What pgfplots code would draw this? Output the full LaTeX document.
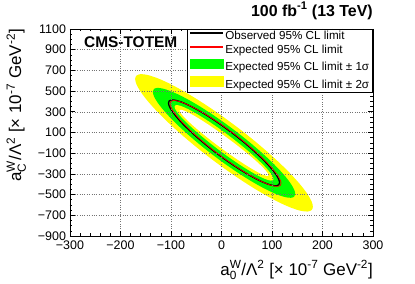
\documentclass[border=0pt]{standalone}
\usepackage{pgfplots}
\pgfplotsset{compat=1.18}
\usepackage{amsmath}
\usepackage{fontspec}
\setmainfont{Liberation Sans}
\definecolor{rgreen}{RGB}{0,255,0}
\definecolor{ryellow}{RGB}{255,255,0}
\definecolor{rred}{RGB}{255,0,0}
\begin{document}
\begin{tikzpicture}
\path[use as bounding box] (-70bp,-48bp) rectangle (345bp,236bp);
\begin{axis}[
  at={(0,0)}, anchor=south west,
  scale only axis, width=303bp, height=207bp,
  xmin=-300, xmax=300, ymin=-900, ymax=1100,
  xtick={-300,-200,-100,0,100,200,300},
  ytick={-900,-700,-500,-300,-100,100,300,500,700,900,1100},
  xticklabels={−300,−200,−100,0,100,200,300},
  yticklabels={−900,−700,−500,−300,−100,100,300,500,700,900,1100},
  minor x tick num=4, minor y tick num=3,
  tick align=inside,
  major tick length=5bp, minor tick length=2.5bp,
  tick style={black, line width=0.6pt},
  axis line style={black, line width=0.8pt},
  grid=major, grid style={dotted, black!55, line width=0.5pt},
  axis on top,
  tick label style={font=\fontsize{12.5}{14}\selectfont},
  xticklabel style={yshift=-1.5bp},
  yticklabel style={xshift=-0.5bp},
  xlabel={a$^{\text{W}}_{\text{0}}$/Λ$^{\text{2}}$ [× 10$^{\text{-7}}$ GeV$^{\text{-2}}$]},
  ylabel={a$^{\text{W}}_{\text{C}}$/Λ$^{\text{2}}$ [× 10$^{\text{-7}}$ GeV$^{\text{-2}}$]},
  xlabel style={at={(axis description cs:1,0)}, anchor=base east, yshift=-39bp, inner sep=0pt, font=\fontsize{17}{19}\selectfont},
  ylabel style={at={(axis description cs:-0.1617,1)}, anchor=base east, inner sep=0pt, font=\fontsize{17}{19}\selectfont},
  title={100 fb$^{\text{-1}}$ (13 TeV)},
  title style={at={(axis description cs:1,1)}, anchor=base east, yshift=7bp, inner sep=0pt, font=\bfseries\fontsize{16}{18}\selectfont},
  legend style={at={(axis description cs:1,1)}, anchor=north east, draw=black, line width=0.6pt, fill=white,
    font=\fontsize{11.7}{14}\selectfont, inner xsep=2bp, inner ysep=2bp, row sep=3bp,
    nodes={inner xsep=1.5bp, inner ysep=0bp, text height=8.5bp, text depth=2.5bp},
    /tikz/every even column/.append style={column sep=3bp}},
  legend cell align=left,
]
% outer 2 sigma (yellow)
\addplot[fill=ryellow, draw=none, smooth, forget plot] coordinates {
(5,245.5) (-25.6,348.9) (-55.2,441.7) (-83,520.8) (-108.1,584.7) (-129.8,630.4) (-147.4,657.0) (-160.4,663.7) (-168.3,650.2)
(-171,616.9) (-168.3,564.9) (-160.4,495.7) (-147.4,411.5) (-129.8,314.8) (-108.1,208.5) (-83,95.9) (-55.2,-19.7) (-25.6,-134.7)
(5,-245.5) (35.6,-348.9) (65.2,-441.7) (93,-520.8) (118.1,-584.7) (139.8,-630.4) (157.4,-657.0) (170.4,-663.7) (178.3,-650.2)
(181,-616.9) (178.3,-564.9) (170.4,-495.7) (157.4,-411.5) (139.8,-314.8) (118.1,-208.5) (93,-95.9) (65.2,19.7) (35.6,134.7)
(5,245.5)} -- cycle;
% outer 1 sigma (green)
\addplot[fill=rgreen, draw=none, smooth, forget plot] coordinates {
(5,196.3) (-19.5,279.0) (-43.2,353.2) (-65.5,416.5) (-85.6,467.5) (-103,504.1) (-117.1,525.4) (-127.5,530.8) (-133.9,520.0)
(-136,493.4) (-133.9,451.8) (-127.5,396.4) (-117.1,329.1) (-103,251.7) (-85.6,166.7) (-65.5,76.7) (-43.2,-15.8) (-19.5,-107.7)
(5,-196.3) (29.5,-279.0) (53.2,-353.2) (75.5,-416.5) (95.6,-467.5) (113,-504.1) (127.1,-525.4) (137.5,-530.8) (143.9,-520.0)
(146,-493.4) (143.9,-451.8) (137.5,-396.4) (127.1,-329.1) (113,-251.7) (95.6,-166.7) (75.5,-76.7) (53.2,15.8) (29.5,107.7)
(5,196.3)} -- cycle;
% inner 1 sigma (back to yellow)
\addplot[fill=ryellow, draw=none, smooth, forget plot] coordinates {
(5,104.3) (-12,163.4) (-28.5,217.6) (-44,265.2) (-58,304.7) (-70.1,335.0) (-79.9,355.1) (-87.1,364.3) (-91.5,362.6)
(-93,349.8) (-91.5,326.4) (-87.1,293.0) (-79.9,250.8) (-70.1,200.9) (-58,144.9) (-44,84.6) (-28.5,21.6) (-12,-41.9)
(5,-104.3) (22,-163.4) (38.5,-217.6) (54,-265.2) (68,-304.7) (80.1,-335.0) (89.9,-355.1) (97.1,-364.3) (101.5,-362.6)
(103,-349.8) (101.5,-326.4) (97.1,-293.0) (89.9,-250.8) (80.1,-200.9) (68,-144.9) (54,-84.6) (38.5,-21.6) (22,41.9)
(5,104.3)} -- cycle;
% inner 2 sigma (white)
\addplot[fill=white, draw=none, smooth, forget plot] coordinates {
(5,70.3) (-10.3,123.5) (-25.1,172.9) (-39,217.0) (-51.6,254.6) (-62.4,284.4) (-71.2,305.5) (-77.7,317.4) (-81.7,319.6)
(-83,312.2) (-81.7,295.2) (-77.7,269.3) (-71.2,235.2) (-62.4,193.9) (-51.6,146.8) (-39,95.2) (-25.1,40.7) (-10.3,-15.1)
(5,-70.3) (20.3,-123.5) (35.1,-172.9) (49,-217.0) (61.6,-254.6) (72.4,-284.4) (81.2,-305.5) (87.7,-317.4) (91.7,-319.6)
(93,-312.2) (91.7,-295.2) (87.7,-269.3) (81.2,-235.2) (72.4,-193.9) (61.6,-146.8) (49,-95.2) (35.1,-40.7) (20.3,15.1)
(5,70.3)} -- cycle;
% observed
\addplot[black, line width=1.3pt, smooth, forget plot] coordinates {
(5,153.4) (-14.1,218.1) (-32.6,276.1) (-50,325.5) (-65.7,365.4) (-79.3,394.0) (-90.3,410.6) (-98.4,414.8) (-103.3,406.4)
(-105,385.6) (-103.3,353.1) (-98.4,309.8) (-90.3,257.2) (-79.3,196.8) (-65.7,130.3) (-50,59.9) (-32.6,-12.3) (-14.1,-84.2)
(5,-153.4) (24.1,-218.1) (42.6,-276.1) (60,-325.5) (75.7,-365.4) (89.3,-394.0) (100.3,-410.6) (108.4,-414.8) (113.3,-406.4)
(115,-385.6) (113.3,-353.1) (108.4,-309.8) (100.3,-257.2) (89.3,-196.8) (75.7,-130.3) (60,-59.9) (42.6,12.3) (24.1,84.2)
(5,153.4)} -- cycle;
% expected
\addplot[rred, line width=0.7pt, smooth, forget plot] coordinates {
(8,147.4) (-11.1,212.1) (-29.6,270.1) (-47,319.5) (-62.7,359.4) (-76.3,388.0) (-87.3,404.6) (-95.4,408.8) (-100.3,400.4)
(-102,379.6) (-100.3,347.1) (-95.4,303.8) (-87.3,251.2) (-76.3,190.8) (-62.7,124.3) (-47,53.9) (-29.6,-18.3) (-11.1,-90.2)
(8,-159.4) (27.1,-224.1) (45.6,-282.1) (63,-331.5) (78.7,-371.4) (92.3,-400.0) (103.3,-416.6) (111.4,-420.8) (116.3,-412.4)
(118,-391.6) (116.3,-359.1) (111.4,-315.8) (103.3,-263.2) (92.3,-202.8) (78.7,-136.3) (63,-65.9) (45.6,6.3) (27.1,78.2)
(8,147.4)} -- cycle;
\addlegendimage{legend image code/.code={\draw[black, line width=1.2pt] (0bp,3.8bp) -- (33bp,3.8bp);}}
\addlegendentry{Observed 95\% CL limit}
\addlegendimage{legend image code/.code={\draw[rred, line width=1.2pt] (0bp,3.8bp) -- (33bp,3.8bp);}}
\addlegendentry{Expected 95\% CL limit}
\addlegendimage{legend image code/.code={\fill[rgreen] (0bp,-0.8bp) rectangle (33bp,8.4bp);}}
\addlegendentry{Expected 95\% CL limit ± 1σ}
\addlegendimage{legend image code/.code={\fill[ryellow] (0bp,-0.8bp) rectangle (33bp,8.4bp);}}
\addlegendentry{Expected 95\% CL limit ± 2σ}
\node[anchor=base west, inner sep=0pt, font=\bfseries\fontsize{15.5}{17}\selectfont] at (axis description cs:0.046,0.9097) {CMS-TOTEM};
\end{axis}
\end{tikzpicture}
\end{document}
